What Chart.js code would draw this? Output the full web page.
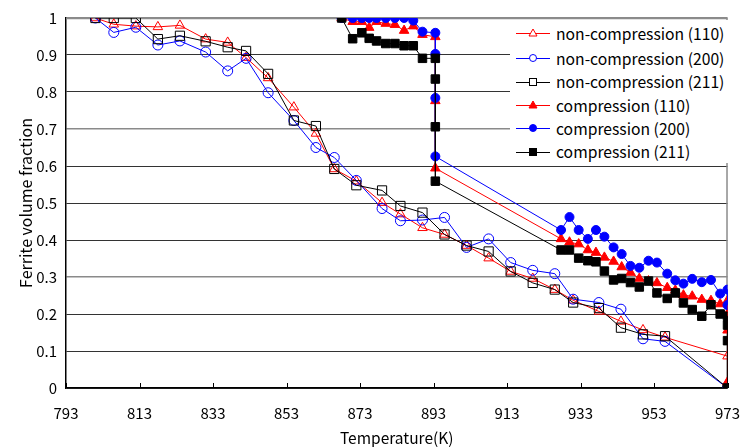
<!DOCTYPE html>
<html>
<head>
<meta charset="utf-8">
<script src="https://cdn.jsdelivr.net/npm/chart.js@4.4.0/dist/chart.umd.min.js"></script>
<style>
  html, body { margin: 0; padding: 0; background: #fff; }
  #wrap { position: relative; width: 756px; height: 447px; }
  #legend {
    position: absolute; left: 510px; top: 20px; width: 218px; height: 143px;
    background: #fff; font-family: "Noto Sans CJK JP", sans-serif; font-size: 15.7px; color: #000;
  }
  .row { position: absolute; left: 6px; height: 20px; display: flex; align-items: center; white-space: nowrap; }
  .row svg { margin-right: 6px; }
</style>
</head>
<body>
<div id="wrap">
  <canvas id="chart" width="756" height="447"></canvas>
  <div id="legend"></div>
</div>
<script>
// axis ticks
const xTicks = [793, 813, 833, 853, 873, 893, 913, 933, 953, 973];

// non-compression series (shared temperatures)
const ncTemp = [801, 806, 812, 818, 824, 831, 837, 842, 848, 855, 861, 866, 872, 879, 884, 890, 896, 902, 908, 914, 920, 926, 931, 938, 944, 950, 956, 973];
const nc110 = [1, 0.983, 0.978, 0.976, 0.98, 0.943, 0.934, 0.893, 0.838, 0.759, 0.688, 0.592, 0.559, 0.501, 0.47, 0.433, 0.415, 0.385, 0.351, 0.315, 0.296, 0.266, 0.237, 0.207, 0.18, 0.157, 0.137, 0.086];
const nc200 = [1, 0.961, 0.975, 0.927, 0.938, 0.908, 0.857, 0.891, 0.798, 0.723, 0.65, 0.623, 0.561, 0.485, 0.452, 0.454, 0.461, 0.38, 0.403, 0.339, 0.318, 0.309, 0.24, 0.231, 0.213, 0.133, 0.126, 0];
const nc211 = [1, 1, 1, 0.943, 0.952, 0.937, 0.921, 0.911, 0.849, 0.723, 0.708, 0.592, 0.548, 0.534, 0.492, 0.474, 0.415, 0.385, 0.369, 0.315, 0.284, 0.266, 0.231, 0.216, 0.163, 0.145, 0.14, 0];

// compression series (shared temperatures, null = no point)
const cTemp = [868, 871, 873.5, 875.5, 877.5, 880, 882.5, 885, 887.5, 890, 893.5, 893.5, 893.5, 893.5,
  927.7, 930, 932.5, 935, 937.2, 939.5, 942, 944.2, 946.6, 949, 951.5, 953.8, 956.6, 958.8, 961, 963.4, 966, 968.5, 971,
  973, 973, 973, 973];
const c110 = [1, 0.99, 0.99, 0.974, 0.99, 0.985, 0.982, 0.966, 0.978, 0.955, 0.949, null, 0.776, 0.594,
  0.403, 0.394, 0.389, 0.373, 0.366, 0.353, 0.342, 0.327, 0.312, 0.296, 0.289, 0.284, 0.271, 0.264, 0.251, 0.248, 0.239, 0.236, 0.227,
  0.236, 0.2, 0.156, 0.016];
const c200 = [1, 1, 1, 1, 1, 1, 1, 1, 0.993, 0.963, 0.96, 0.903, 0.784, 0.626,
  0.427, 0.462, 0.427, 0.403, 0.427, 0.409, 0.38, 0.362, 0.33, 0.325, 0.344, 0.339, 0.309, 0.291, 0.282, 0.295, 0.286, 0.292, 0.255,
  0.266, 0.224, null, null];
const c211 = [1, 0.944, 0.96, 0.945, 0.938, 0.931, 0.931, 0.925, 0.925, 0.891, 0.891, 0.835, 0.706, 0.559,
  0.373, 0.373, 0.351, 0.344, 0.341, 0.316, 0.292, 0.296, 0.285, 0.273, 0.289, 0.257, 0.242, 0.257, 0.23, 0.212, 0.194, 0.225, 0.2,
  0.194, 0.17, 0.128, 0];

const FONT = '"Noto Sans CJK JP", sans-serif';
// grid lines that look softer (gray, wider) in the original
const softGrid = [0.3, 0.7, 1];

function pts(xs, ys) {
  return xs.map((x, i) => ({ x: x, y: ys[i] })).filter(p => p.y !== null);
}

const series = [
  { label: "non-compression (110)", temps: ncTemp, vals: nc110, color: "#ff0000", shape: "triangle", filled: false, radius: 5.5, order: 5 },
  { label: "non-compression (200)", temps: ncTemp, vals: nc200, color: "#0000ff", shape: "circle", filled: false, radius: 5, order: 4 },
  { label: "non-compression (211)", temps: ncTemp, vals: nc211, color: "#000000", shape: "rect", filled: false, radius: 6.5, order: 3 },
  { label: "compression (110)", temps: cTemp, vals: c110, color: "#ff0000", shape: "triangle", filled: true, radius: 5.5, order: 2 },
  { label: "compression (200)", temps: cTemp, vals: c200, color: "#0000ff", shape: "circle", filled: true, radius: 4.5, order: 1 },
  { label: "compression (211)", temps: cTemp, vals: c211, color: "#000000", shape: "rect", filled: true, radius: 6, order: 0 }
];

const datasets = series.map(s => ({
  label: s.label,
  data: pts(s.temps, s.vals),
  showLine: true,
  borderColor: s.color,
  borderWidth: 1,
  backgroundColor: s.filled ? s.color : "rgba(255,255,255,0)",
  pointStyle: s.shape,
  pointRadius: s.radius,
  pointBorderColor: s.color,
  pointBackgroundColor: s.filled ? s.color : "rgba(255,255,255,0)",
  pointBorderWidth: 1,
  order: s.order
}));

// gray frame on top/right and inward x tick marks
const frame = {
  id: "frame",
  beforeDatasetsDraw(chart) {
    const { ctx, chartArea: a } = chart;
    ctx.save();
    ctx.strokeStyle = "#8c8c8c";
    ctx.lineWidth = 1.5;
    ctx.beginPath();
    ctx.moveTo(a.left, a.top + 0.5);
    ctx.lineTo(a.right - 0.5, a.top + 0.5);
    ctx.lineTo(a.right - 0.5, a.bottom);
    ctx.stroke();
    ctx.strokeStyle = "#000";
    ctx.lineWidth = 1;
    const x = chart.scales.x;
    xTicks.forEach(v => {
      const px = Math.round(x.getPixelForValue(v)) + 0.5;
      ctx.beginPath();
      ctx.moveTo(px, a.bottom);
      ctx.lineTo(px, a.bottom - 5);
      ctx.stroke();
    });
    ctx.restore();
  }
};

const isSoft = ctx => ctx.tick && softGrid.some(v => Math.abs(v - ctx.tick.value) < 1e-6);

new Chart(document.getElementById("chart").getContext("2d"), {
  type: "scatter",
  data: { datasets: datasets },
  options: {
    responsive: false,
    animation: false,
    layout: { padding: { top: 15, right: 17, left: 0, bottom: 0 } },
    plugins: { legend: { display: false }, tooltip: { enabled: false } },
    scales: {
      x: {
        type: "linear",
        min: 793,
        max: 973,
        afterBuildTicks: scale => { scale.ticks = xTicks.map(v => ({ value: v })); },
        afterFit: scale => { scale.height = 59; },
        grid: { display: true, drawOnChartArea: false, drawTicks: false },
        border: { color: "#000", width: 1.5 },
        ticks: { padding: 16, color: "#000", font: { family: FONT, size: 15 }, maxRotation: 0, autoSkip: false },
        title: { display: true, text: "Temperature(K)", color: "#000", font: { family: FONT, size: 15.5 }, padding: { top: 0, bottom: 0 } }
      },
      y: {
        min: 0,
        max: 1,
        afterFit: scale => { scale.width = 66; },
        grid: {
          drawTicks: false,
          color: ctx => (isSoft(ctx) ? "#8a8a8a" : "#333333"),
          lineWidth: ctx => (isSoft(ctx) ? 1.6 : 1)
        },
        border: { color: "#000", width: 1.5 },
        ticks: {
          stepSize: 0.1,
          padding: 9,
          color: "#000",
          font: { family: FONT, size: 15 },
          callback: v => String(+v.toFixed(1))
        },
        title: { display: true, text: "Ferrite volume fraction", color: "#000", font: { family: FONT, size: 16 }, padding: { top: 16, bottom: 0 } }
      }
    }
  },
  plugins: [frame]
});

// HTML legend inside the plot area
const legend = document.getElementById("legend");
const rowTops = [13.3, 38.3, 61.7, 85, 108.3, 131.7];
series.forEach((s, i) => {
  const fill = s.filled ? s.color : "#fff";
  let mark;
  if (s.shape === "triangle") mark = `<polygon points="17,3 13,10 21,10" fill="${fill}" stroke="${s.color}" stroke-width="1"/>`;
  else if (s.shape === "circle") mark = `<circle cx="17" cy="7" r="3.5" fill="${fill}" stroke="${s.color}" stroke-width="1"/>`;
  else mark = `<rect x="13.5" y="3.5" width="7" height="7" fill="${fill}" stroke="${s.color}" stroke-width="1"/>`;
  const row = document.createElement("div");
  row.className = "row";
  row.style.top = (rowTops[i] - 10) + "px";
  row.innerHTML = `<svg width="34" height="14"><line x1="0" y1="7.5" x2="34" y2="7.5" stroke="${s.color}" stroke-width="1"/>${mark}</svg><span>${s.label}</span>`;
  legend.appendChild(row);
});
</script>
</body>
</html>
